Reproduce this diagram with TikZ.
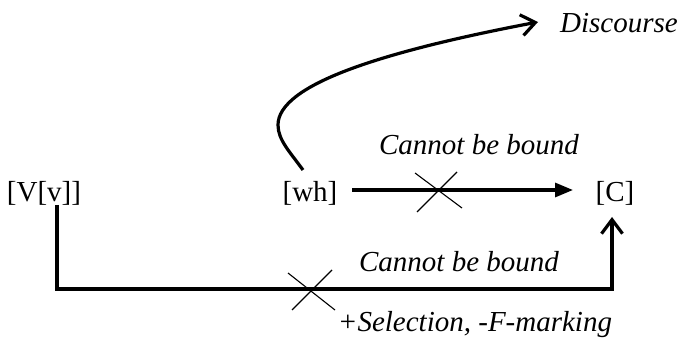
\documentclass[tikz,border=0pt]{standalone}
\usepackage{fontspec}
\setmainfont{Liberation Serif}
\usetikzlibrary{arrows.meta,calc}
\tikzset{
  lbl/.style={inner sep=0pt, anchor=base, font=\fontsize{29}{32}\selectfont},
  ilbl/.style={lbl, font=\fontsize{29}{32}\selectfont\itshape},
  heavy/.style={line width=3.2pt},
  openhead/.style={-{Straight Barb[length=14pt,width=21pt,line width=3.2pt]}},
  filledhead/.style={-{Triangle[length=18pt,width=14pt]}},
  crossline/.style={line width=1.1pt},
}
\begin{document}
\begin{tikzpicture}[x=1pt,y=1pt]
\useasboundingbox (0,0) rectangle (681,-339);
% nodes
\node[lbl] (V) at (44,-202) {[V[v]]};
\node[lbl] (wh) at (310,-202) {[wh]};
\node[lbl] (C) at (615,-202) {[C]};
\node[ilbl] (disc) at (619,-33) {Discourse};
\node[ilbl] (cb1) at (479,-155) {Cannot be bound};
\node[ilbl] (cb2) at (459,-272) {Cannot be bound};
\node[ilbl] (sel) at (475,-332) {+Selection, -F-marking};
% helper coordinates
\coordinate (whtop) at (303,-170);
\coordinate (curveleft) at (278,-125);
\coordinate (disctip) at (538,-22);
\coordinate (whR) at (352,-190);
\coordinate (Ctip) at (573,-190);
\coordinate (vstart) at (57,-205);
\coordinate (bl) at (57,-289);
\coordinate (Cbot) at (612,-217);
\coordinate (x1) at (438,-190);
\coordinate (x2) at (312,-290);
% curved arrow to Discourse
\draw[heavy, openhead] (whtop) .. controls (290,-152) and (278,-140) .. (curveleft)
  .. controls (278,-85) and (380,-52) .. (disctip);
% wh -> C
\draw[heavy, filledhead] (whR) -- (Ctip);
% V -> C
\draw[heavy, openhead] (vstart) -- (bl) -| (Cbot);
% crosses
\draw[crossline] ($(x1)+(-23,17)$) -- ($(x1)+(24,-18)$);
\draw[crossline] ($(x1)+(-21,-22)$) -- ($(x1)+(19,18)$);
\draw[crossline] ($(x2)+(-24,17)$) -- ($(x2)+(23,-20)$);
\draw[crossline] ($(x2)+(-20,-20)$) -- ($(x2)+(20,20)$);
\end{tikzpicture}
\end{document}
